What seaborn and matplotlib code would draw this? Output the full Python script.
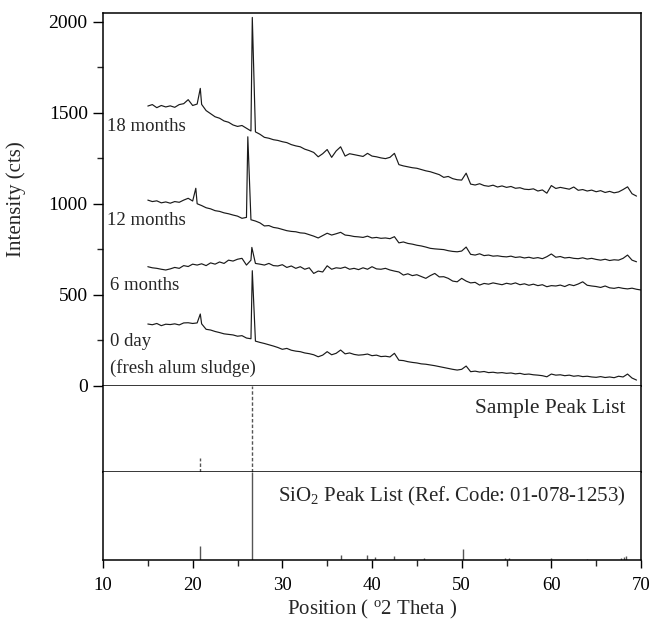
import numpy as np
import pandas as pd
import matplotlib
matplotlib.use("Agg")
import matplotlib.pyplot as plt
from matplotlib.ticker import MultipleLocator
import seaborn as sns

# ---------------- data ----------------
# sampling positions of the traces (2-theta, degrees)
theta_grid = np.arange(15.0, 69.75, 0.5)

m18_base = [1537, 1545, 1528, 1540, 1532, 1538, 1530, 1545, 1550, 1572,
            1540, 1548, 1546, 1512, 1495, 1478, 1470, 1455, 1448, 1433,
            1425, 1430, 1415, 1400, 1395, 1382, 1365, 1360, 1352, 1348,
            1341, 1336, 1325, 1318, 1313, 1300, 1292, 1282, 1258, 1275,
            1298, 1255, 1290, 1313, 1262, 1275, 1270, 1265, 1260, 1277,
            1262, 1258, 1252, 1248, 1255, 1277, 1215, 1208, 1203, 1198,
            1195, 1188, 1181, 1176, 1168, 1160, 1145, 1150, 1138, 1132,
            1130, 1168, 1108, 1103, 1110, 1100, 1096, 1102, 1092, 1098,
            1090, 1095, 1085, 1088, 1080, 1078, 1082, 1070, 1076, 1058,
            1100, 1084, 1090, 1085, 1080, 1092, 1074, 1078, 1070, 1075,
            1066, 1072, 1062, 1068, 1060, 1065, 1078, 1093, 1055, 1042]
m18_peak_x = [20.85, 26.65]
m18_peak_y = [1634, 2024]

m12_base = [1020, 1012, 1016, 1005, 1010, 1003, 1012, 1008, 1020, 1030,
            1015, 1000, 990, 978, 972, 962, 958, 950, 945, 938,
            932, 920, 925, 912, 905, 895, 878, 880, 870, 866,
            859, 852, 848, 846, 840, 838, 830, 822, 812, 825,
            838, 828, 835, 843, 828, 825, 820, 818, 815, 822,
            812, 815, 810, 812, 808, 819, 785, 790, 782, 778,
            772, 768, 762, 755, 752, 750, 748, 742, 738, 736,
            740, 762, 722, 718, 725, 715, 718, 712, 714, 710,
            708, 712, 705, 708, 702, 706, 700, 704, 698, 709,
            724, 706, 710, 702, 705, 700, 698, 703, 696, 700,
            694, 690, 695, 688, 692, 690, 700, 718, 690, 681]
m12_peak_x = [20.35, 26.15]
m12_peak_y = [1085, 1368]

m6_base = [654, 648, 645, 640, 636, 642, 650, 645, 660, 655,
           668, 663, 670, 660, 675, 668, 680, 672, 690, 685,
           695, 700, 663, 690, 672, 668, 663, 672, 660, 658,
           665, 650, 658, 645, 654, 640, 648, 617, 630, 625,
           659, 640, 648, 645, 652, 640, 645, 638, 648, 640,
           654, 642, 640, 645, 636, 630, 625, 608, 615, 605,
           610, 600, 590, 605, 617, 598, 599, 590, 575, 571,
           590, 575, 565, 568, 553, 562, 558, 565, 560, 555,
           563, 558, 565, 555, 560, 552, 558, 550, 555, 544,
           550, 548, 553, 545, 556, 550, 559, 571, 552, 548,
           545, 540, 548, 538, 535, 540, 535, 532, 536, 530]
m6_peak_x = [26.6, 70.0]
m6_peak_y = [760, 526]

d0_base = [339, 335, 342, 330, 338, 336, 340, 334, 345, 346,
           342, 345, 340, 310, 306, 298, 292, 285, 282, 279,
           272, 275, 262, 258, 245, 238, 232, 225, 218, 210,
           200, 205, 195, 190, 187, 180, 176, 170, 159, 168,
           187, 170, 178, 196, 175, 180, 172, 168, 170, 174,
           165, 168, 160, 162, 158, 178, 140, 138, 132, 128,
           125, 120, 118, 114, 110, 105, 100, 95, 90, 86,
           90, 108, 77, 80, 75, 78, 72, 74, 70, 72,
           68, 70, 65, 68, 62, 64, 60, 58, 55, 49,
           64, 58, 60, 55, 58, 52, 55, 50, 52, 48,
           46, 50, 45, 48, 44, 52, 48, 64, 42, 31]
d0_peak_x = [20.85, 26.65]
d0_peak_y = [394, 632]

series_names = ["18 months", "12 months", "6 months", "0 day"]

# peak lists (position, relative intensity %)
sample_peaks_pos = [20.85, 26.64]
sample_peaks_int = [16, 100]
sio2_peaks_pos = [20.86, 26.64, 36.54, 39.47, 40.29, 42.45, 45.79, 50.14,
                  54.87, 55.33, 59.96, 64.03, 67.74, 68.14, 68.31]
sio2_peaks_int = [16, 100, 6, 6, 3, 4, 2, 13, 2, 2, 2, 1.5, 2, 3, 4]


def make_df(base, px, py):
    x = np.concatenate([theta_grid, px])
    y = np.concatenate([np.asarray(base, float), np.asarray(py, float)])
    o = np.argsort(x)
    return pd.DataFrame({"theta": x[o], "counts": y[o]})


frames = [make_df(m18_base, m18_peak_x, m18_peak_y),
          make_df(m12_base, m12_peak_x, m12_peak_y),
          make_df(m6_base, m6_peak_x, m6_peak_y),
          make_df(d0_base, d0_peak_x, d0_peak_y)]

# ---------------- style ----------------
sns.set_theme(style="ticks")
plt.rcParams["font.family"] = ["Liberation Serif", "DejaVu Serif"]
plt.rcParams["mathtext.fontset"] = "custom"
plt.rcParams["mathtext.rm"] = "Liberation Serif"
plt.rcParams["mathtext.it"] = "Liberation Serif:italic"
plt.rcParams["axes.linewidth"] = 1.1

W, H = 662, 625
fig = plt.figure(figsize=(W / 100, H / 100), dpi=100)
fig.patch.set_facecolor("white")

L, R = 103, 641
def rect(top, bot):
    return [L / W, 1 - bot / H, (R - L) / W, (bot - top) / H]

ax_top = fig.add_axes(rect(12.7, 385.7))
ax_mid = fig.add_axes(rect(385.7, 472.3))
ax_bot = fig.add_axes(rect(472.3, 560.0))

line_col = "#1a1a1a"
for df in frames:
    sns.lineplot(data=df, x="theta", y="counts", ax=ax_top, color=line_col,
                 lw=0.85, estimator=None, sort=False)

for a in (ax_top, ax_mid, ax_bot):
    a.set_xlim(10, 70)
    a.set_facecolor("white")
    for s in a.spines.values():
        s.set_color("black")
        s.set_linewidth(1.1)
    a.set_xlabel("")
    a.set_ylabel("")

ax_top.set_ylim(0, 2050)
ax_top.yaxis.set_major_locator(MultipleLocator(500))
ax_top.yaxis.set_minor_locator(MultipleLocator(250))
ax_top.tick_params(axis="y", which="major", direction="out", length=7, width=1.0,
                   labelsize=14, pad=4, colors="black")
ax_top.tick_params(axis="y", which="minor", direction="out", length=4.5, width=1.0)
ax_top.tick_params(axis="x", which="both", bottom=False, labelbottom=False)
ax_top.set_ylabel("Intensity (cts)", fontsize=15)
ax_top.yaxis.set_label_coords(-0.143, 0.5)

label_pos = [(10.4, 1423), (10.4, 910), (10.8, 548), (10.8, 242)]
for name, (lx, ly) in zip(series_names, label_pos):
    ax_top.text(lx, ly, name, fontsize=13.5, ha="left", va="center")
ax_top.text(10.8, 99, "(fresh alum sludge)", fontsize=13.5, ha="left", va="center")

# middle panel: sample peak list
ax_mid.set_ylim(0, 100)
ax_mid.set_yticks([])
ax_mid.tick_params(axis="x", which="both", bottom=False, labelbottom=False)
ax_mid.spines["top"].set_visible(False)
ax_mid.vlines(sample_peaks_pos, 0, sample_peaks_int, colors="#555555",
              linestyles=(0, (2.5, 1.5)), lw=1.0)
ax_mid.text(68.3, 74, "Sample Peak List", fontsize=15.5, ha="right", va="center")

# bottom panel: SiO2 reference list
ax_bot.set_ylim(0, 100)
ax_bot.set_yticks([])
ax_bot.spines["top"].set_visible(False)
ax_bot.vlines(sio2_peaks_pos, 0, sio2_peaks_int, colors="#555555", lw=1.0)
ax_bot.xaxis.set_major_locator(MultipleLocator(10))
ax_bot.xaxis.set_minor_locator(MultipleLocator(5))
ax_bot.tick_params(axis="x", which="major", direction="out", length=6, width=1.0,
                   labelsize=13.5, pad=6, colors="black")
ax_bot.tick_params(axis="x", which="minor", direction="out", length=4, width=1.0)
ax_bot.text(68.3, 72, r"SiO$_2$ Peak List (Ref. Code: 01-078-1253)", fontsize=15,
            ha="right", va="center")
ax_bot.set_xlabel(r"Position ( $^{\mathrm{o}}$2 Theta )", fontsize=15, labelpad=3)

fig.savefig("out.png", dpi=100, facecolor="white")
